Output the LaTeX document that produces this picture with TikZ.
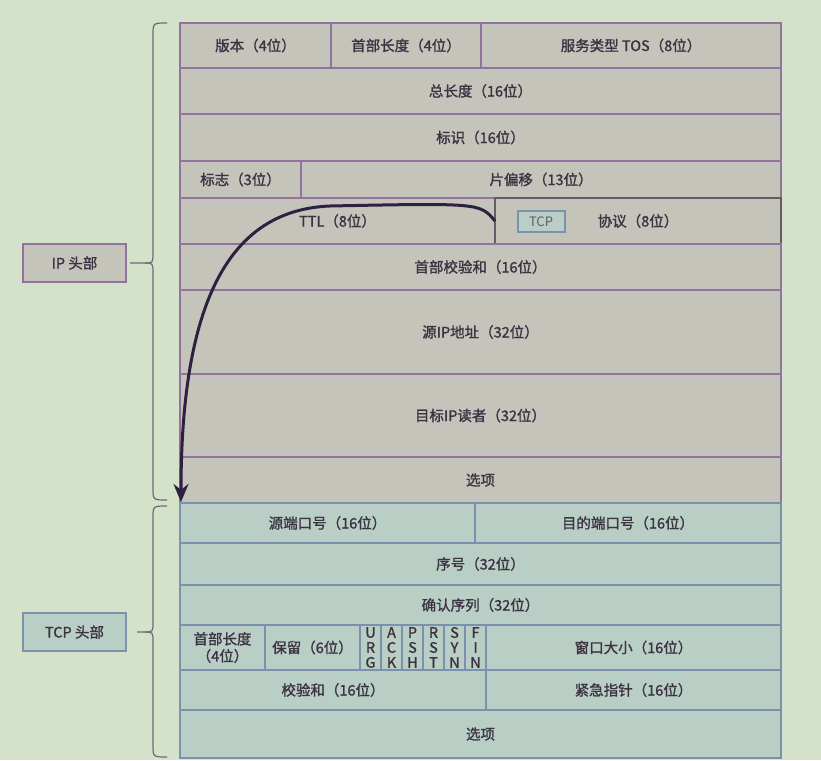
\documentclass[tikz,border=0pt]{standalone}
\usepackage{fontspec}
\setmainfont{Noto Sans CJK SC}[AutoFakeBold=1.3]
\usetikzlibrary{arrows.meta}
\definecolor{bg}{HTML}{D3E2C9}
\definecolor{ipfill}{HTML}{C4C4BB}
\definecolor{ipline}{HTML}{9273A0}
\definecolor{tcpfill}{HTML}{B9CFC6}
\definecolor{tcpline}{HTML}{7B91AE}
\definecolor{ink}{HTML}{3B3242}
\definecolor{bracecol}{HTML}{6E6874}
\definecolor{arrowcol}{HTML}{2E2040}
\tikzset{>={Stealth[length=18pt,width=15pt]}}

\begin{document}
\begin{tikzpicture}[x=1pt,y=-1pt,
  cell/.style={draw, line width=1.2pt, inner sep=0pt, outer sep=0pt, anchor=north west,
    text=ink, align=center, font=\fontsize{14.5}{17}\selectfont\bfseries},
  ipcell/.style={cell, draw=ipline, fill=ipfill},
  tcpcell/.style={cell, draw=tcpline, fill=tcpfill},
  flag/.style={tcpcell, minimum width=21pt, minimum height=45pt, font=\fontsize{14.5}{15}\selectfont\bfseries},
  brace/.style={draw=bracecol, line width=1.2pt}]

  \fill[bg] (0,0) rectangle (821,760);
  \useasboundingbox (0,0) rectangle (821,760);

  %% IP header
  \node[ipcell, minimum width=151pt, minimum height=45pt] (ver) at (180,23) {版本（4位）};
  \node[ipcell, minimum width=150pt, minimum height=45pt] (hlen) at (331,23) {首部长度（4位）};
  \node[ipcell, minimum width=300pt, minimum height=45pt] (tos) at (481,23) {服务类型 TOS（8位）};
  \node[ipcell, minimum width=601pt, minimum height=46pt] (totlen) at (180,68) {总长度（16位）};
  \node[ipcell, minimum width=601pt, minimum height=47pt] (ident) at (180,114) {标识（16位）};
  \node[ipcell, minimum width=121pt, minimum height=37pt] (ipflags) at (180,161) {标志（3位）};
  \node[ipcell, minimum width=480pt, minimum height=37pt] (frag) at (301,161) {片偏移（13位）};
  \node[ipcell, minimum width=315pt, minimum height=46pt] (ttl) at (180,198) {TTL（8位）};
  \node[ipcell, draw=ink!80, minimum width=286pt, minimum height=46pt] (proto) at (495,198) {协议（8位）};
  \node[ipcell, minimum width=601pt, minimum height=46pt] (ipsum) at (180,244) {首部校验和（16位）};
  \node[ipcell, minimum width=601pt, minimum height=84pt] (srcip) at (180,290) {源IP地址（32位）};
  \node[ipcell, minimum width=601pt, minimum height=83pt] (dstip) at (180,374) {目标IP读者（32位）};
  \node[ipcell, minimum width=601pt, minimum height=46pt] (ipopt) at (180,457) {选项};

  % protocol value
  \node[tcpcell, anchor=center, line width=2pt, minimum width=47pt, minimum height=21pt,
    text=ink!80, font=\fontsize{13}{15}\selectfont] (tcptag) at (541,221.5) {TCP};

  %% TCP header
  \node[tcpcell, minimum width=295pt, minimum height=40pt] (sport) at (180,503) {源端口号（16位）};
  \node[tcpcell, minimum width=306pt, minimum height=40pt] (dport) at (475,503) {目的端口号（16位）};
  \node[tcpcell, minimum width=601pt, minimum height=42pt] (seq) at (180,543) {序号（32位）};
  \node[tcpcell, minimum width=601pt, minimum height=40pt] (ack) at (180,585) {确认序列（32位）};
  \node[tcpcell, minimum width=85pt, minimum height=45pt] (thlen) at (180,625) {首部长度\\（4位）};
  \node[tcpcell, minimum width=95pt, minimum height=45pt] (resv) at (265,625) {保留（6位）};
  \foreach \a/\b/\c [count=\i from 0] in {U/R/G,A/C/K,P/S/H,R/S/T,S/Y/N,F/I/N}
    \node[flag] (flag\i) at ({360+21*\i},625) {\a\\\b\\\c};
  \node[tcpcell, minimum width=295pt, minimum height=45pt] (win) at (486,625) {窗口大小（16位）};
  \node[tcpcell, minimum width=306pt, minimum height=40pt] (tsum) at (180,670) {校验和（16位）};
  \node[tcpcell, minimum width=295pt, minimum height=40pt] (urg) at (486,670) {紧急指针（16位）};
  \node[tcpcell, minimum width=601pt, minimum height=48pt] (tcpopt) at (180,710) {选项};

  %% labels and braces
  \node[ipcell, minimum width=103pt, minimum height=38pt] (iplabel) at (23,244) {IP 头部};
  \node[tcpcell, minimum width=103pt, minimum height=38pt] (tcplabel) at (23,613) {TCP 头部};

  \draw[brace] (167,23) .. controls (153,23) .. (153,35) -- (153,252)
    .. controls (153,263) .. (145,263) -- (130,263);
  \draw[brace] (145,263) .. controls (153,263) .. (153,274) -- (153,488)
    .. controls (153,500) .. (167,500);
  \draw[brace] (167,506) .. controls (153,506) .. (153,518) -- (153,621)
    .. controls (153,632) .. (145,632) -- (137,632);
  \draw[brace] (145,632) .. controls (153,632) .. (153,643) -- (153,745)
    .. controls (153,757) .. (167,757);

  %% protocol -> TCP header
  \coordinate (tcptop) at (181,502);
  \draw[->, arrowcol, line width=3pt] (proto.west) .. controls (480,203) .. (330,206)
    .. controls (230,210) and (181,300) .. (tcptop);

\end{tikzpicture}
\end{document}
